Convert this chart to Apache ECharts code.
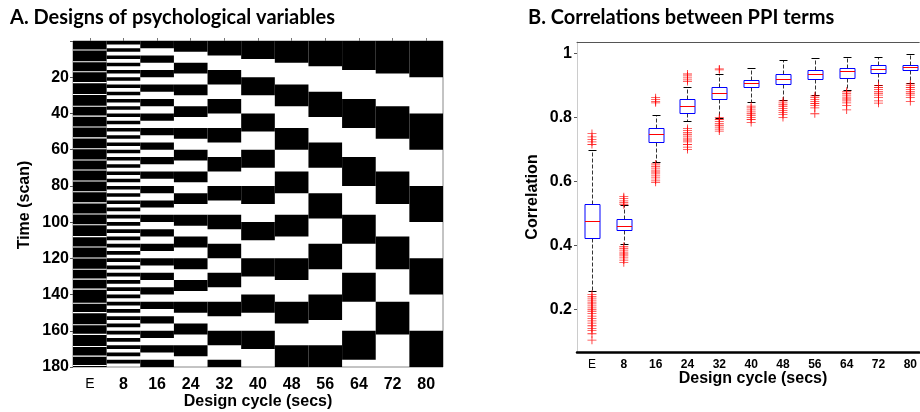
<!DOCTYPE html>
<html>
<head>
<meta charset="utf-8">
<script src="https://cdn.jsdelivr.net/npm/echarts@6/dist/echarts.min.js"></script>
<style>
html, body { margin: 0; padding: 0; background: #fff; }
#chart { width: 920px; height: 412px; }
</style>
</head>
<body>
<div id="chart"></div>
<script>
// design cycles (secs), x categories of both panels
var cycles = ['E', '8', '16', '24', '32', '40', '48', '56', '64', '72', '80'];

// panel A, column E: scans where a (white) event line sits
var eventOnsets = [5, 11.5, 17, 23, 29.5, 36, 41.5, 47.5, 53.5, 59.5, 65.7, 71.2, 77.3, 83.2, 89.4, 95.5,
    101.5, 108, 113.7, 119.8, 126, 131.5, 137, 144.8, 150, 156.7, 162, 168.7, 174, 179.2];

// panel A, columns 8..80: length of one black block (scans)
var blockLen = [2, 4, 6, 8, 10, 12, 14, 16, 18, 20];
// panel A, columns 8..80: scans where black blocks start
var blockOnsets = [
    [0, 4, 8, 12, 16, 20, 24, 28, 32, 36, 40, 44, 48, 52, 56, 60, 64, 68, 72, 76, 80, 84, 88, 92, 96, 100,
        104, 108, 112, 116, 120, 124, 128, 132, 136, 140, 144, 148, 152, 156, 160, 164, 168, 172, 176],
    [0, 8, 16, 24, 32, 40, 48, 56, 64, 72, 80, 88, 96, 104, 112, 120, 128, 136, 144, 152, 160, 168, 176],
    [0, 12, 24, 36, 48, 60, 72, 84, 96, 108, 120, 132, 144, 156, 168],
    [0, 16, 32, 48, 64, 80, 96, 112, 128, 144, 160, 176],
    [0, 20, 40, 60, 80, 100, 120, 140, 160],
    [0, 24, 48, 72, 96, 120, 144, 168],
    [0, 28, 56, 84, 112, 140, 168],
    [0, 32, 64, 96, 128, 160],
    [0, 36, 72, 108, 144],
    [0, 40, 80, 120, 160]
];

// panel B: [lower whisker, q1, median, q3, upper whisker] per cycle
var boxStats = [
    [0.26, 0.425, 0.476, 0.529, 0.698],
    [0.406, 0.450, 0.463, 0.484, 0.526],
    [0.661, 0.724, 0.748, 0.769, 0.807],
    [0.79, 0.814, 0.835, 0.857, 0.894],
    [0.80, 0.857, 0.877, 0.894, 0.935],
    [0.85, 0.895, 0.908, 0.918, 0.955],
    [0.856, 0.906, 0.92, 0.935, 0.979],
    [0.872, 0.919, 0.935, 0.948, 0.987],
    [0.887, 0.925, 0.945, 0.955, 0.99],
    [0.902, 0.939, 0.952, 0.963, 0.99],
    [0.908, 0.948, 0.957, 0.963, 0.998]
];
// panel B: outliers per cycle
var outliers = [
    [0.75, 0.74, 0.732, 0.724, 0.716, 0.248, 0.242, 0.236, 0.23, 0.224, 0.218, 0.212, 0.206, 0.2, 0.194,
        0.188, 0.18, 0.172, 0.165, 0.158, 0.15, 0.142, 0.135, 0.125, 0.105],
    [0.553, 0.548, 0.54, 0.534, 0.528, 0.398, 0.392, 0.386, 0.38, 0.374, 0.368, 0.362, 0.355, 0.347],
    [0.862, 0.856, 0.85, 0.846, 0.655, 0.648, 0.642, 0.636, 0.63, 0.624, 0.618, 0.612, 0.605, 0.598],
    [0.936, 0.93, 0.924, 0.918, 0.913, 0.766, 0.76, 0.754, 0.748, 0.742, 0.736, 0.73, 0.724, 0.716, 0.708, 0.7],
    [0.952, 0.949, 0.80, 0.794, 0.788, 0.782, 0.776, 0.77, 0.764, 0.758],
    [0.836, 0.83, 0.824, 0.818, 0.812, 0.806, 0.8, 0.794, 0.785],
    [0.852, 0.846, 0.84, 0.834, 0.828, 0.822, 0.816, 0.81, 0.8],
    [0.868, 0.862, 0.856, 0.85, 0.844, 0.838, 0.83, 0.812],
    [0.882, 0.876, 0.87, 0.864, 0.858, 0.852, 0.846, 0.838, 0.824],
    [0.9, 0.894, 0.888, 0.882, 0.876, 0.87, 0.862, 0.852, 0.845],
    [0.905, 0.9, 0.894, 0.888, 0.882, 0.876, 0.87, 0.862, 0.85]
];
var corrTicks = [0.2, 0.4, 0.6, 0.8, 1];
var cycleIdx = [0, 1, 2, 3, 4, 5, 6, 7, 8, 9, 10];

var FONT = '"Liberation Sans", Arial, sans-serif';

// build series data
var blackData = [[0, 0, 180]];
blockOnsets.forEach(function (list, i) {
    list.forEach(function (s) {
        blackData.push([i + 1, s, Math.min(s + blockLen[i], 180)]);
    });
});
var eventData = eventOnsets.map(function (s) { return [0, s - 0.3, s + 0.3]; });
var boxData = boxStats.map(function (b, i) { return [i].concat(b); });
var outlierData = [];
outliers.forEach(function (list, i) {
    list.forEach(function (v) { outlierData.push([i, v]); });
});

function renderBlock(params, api) {
    var p0 = api.coord([api.value(0), api.value(1)]);
    var p1 = api.coord([api.value(0), api.value(2)]);
    var w = api.size([1, 0])[0];
    return {
        type: 'rect',
        shape: { x: p0[0] - w / 2, y: p0[1], width: w, height: p1[1] - p0[1] },
        style: { fill: api.visual('color') }
    };
}

function renderBox(params, api) {
    var i = api.value(0);
    var x = Math.round(api.coord([i, 0])[0]) + 0.5;
    var y = function (k) { return Math.round(api.coord([i, api.value(k)])[1]) + 0.5; };
    var lo = y(1), q1 = y(2), med = y(3), q3 = y(4), hi = y(5);
    var hw = 7.5, cw = 4;
    var wh = { stroke: '#333', lineWidth: 1, lineDash: [4, 2] };
    return {
        type: 'group',
        children: [
            { type: 'line', shape: { x1: x, y1: q3, x2: x, y2: hi }, style: wh },
            { type: 'line', shape: { x1: x, y1: q1, x2: x, y2: lo }, style: wh },
            { type: 'line', shape: { x1: x - cw, y1: hi, x2: x + cw, y2: hi }, style: { stroke: '#000', lineWidth: 1 } },
            { type: 'line', shape: { x1: x - cw, y1: lo, x2: x + cw, y2: lo }, style: { stroke: '#000', lineWidth: 1 } },
            { type: 'rect', shape: { x: x - hw, y: q3, width: 2 * hw, height: q1 - q3 }, style: { fill: '#fff', stroke: '#0000ff', lineWidth: 1 } },
            { type: 'line', shape: { x1: x - hw, y1: med, x2: x + hw, y2: med }, style: { stroke: '#ff0000', lineWidth: 1 } }
        ]
    };
}

var labelE = function (v) { return v === 'E' ? '{e|E}' : v; };

var chart = echarts.init(document.getElementById('chart'));
chart.setOption({
    backgroundColor: '#fff',
    animation: false,
    grid: [
        { left: 73, top: 41, width: 370, height: 326, show: true, borderColor: '#888', borderWidth: 1 },
        { left: 577, top: 42, right: 0, height: 310 }
    ],
    xAxis: [
        {
            gridIndex: 0, type: 'category', data: cycles, boundaryGap: true,
            axisLine: { show: false },
            axisTick: { show: true, inside: true, length: 3, alignWithLabel: true, interval: 0, lineStyle: { color: '#777' } },
            axisLabel: { interval: 0, fontFamily: FONT, fontWeight: 'bold', fontSize: 16, color: '#000', margin: 10,
                formatter: labelE, rich: { e: { fontFamily: FONT, fontWeight: 'normal', fontSize: 14, color: '#000' } } }
        },
        {
            // the panel runs past the right edge of the picture, so its x scale is a value scale
            gridIndex: 1, type: 'value', min: -0.47, max: 10.28,
            axisLine: { show: true, onZero: false, lineStyle: { color: '#000', width: 2.5 } },
            axisTick: { show: false },
            splitLine: { show: false },
            axisLabel: { customValues: cycleIdx, fontFamily: FONT, fontWeight: 'bold', fontSize: 12, color: '#000', margin: 7,
                formatter: function (v) { return labelE(cycles[Math.round(v)]); },
                rich: { e: { fontFamily: FONT, fontWeight: 'normal', fontSize: 12, color: '#000' } } }
        },
        {
            // top border line of panel B
            gridIndex: 1, type: 'value', position: 'top', min: -0.47, max: 10.28,
            axisLine: { show: true, onZero: false, lineStyle: { color: '#555', width: 1 } },
            axisTick: { show: false }, axisLabel: { show: false }, splitLine: { show: false }
        }
    ],
    yAxis: [
        {
            gridIndex: 0, type: 'value', min: 0, max: 180, interval: 20, inverse: true,
            axisLine: { show: false },
            axisTick: { show: true, length: 3, lineStyle: { color: '#555' } },
            splitLine: { show: false },
            axisLabel: { fontFamily: FONT, fontWeight: 'bold', fontSize: 16, color: '#000', margin: 4,
                formatter: function (v) { return v === 0 ? '' : v; } }
        },
        {
            gridIndex: 1, type: 'value', min: 0.068, max: 1.036,
            axisLine: { show: true, onZero: false, lineStyle: { color: '#ccc' } },
            axisTick: { show: true, length: 3, customValues: corrTicks, lineStyle: { color: '#555' } },
            splitLine: { show: false },
            axisLabel: { fontFamily: FONT, fontWeight: 'bold', fontSize: 16, color: '#000', margin: 5,
                customValues: corrTicks, formatter: function (v) { return String(Math.round(v * 10) / 10); } }
        }
    ],
    graphic: [
        { type: 'text', left: 10, top: 8, style: { text: 'A. Designs of psychological variables', font: 'bold 20px Lato, sans-serif', fill: '#000' } },
        { type: 'text', left: 528, top: 8, style: { text: 'B. Correlations between PPI terms', font: 'bold 20px Lato, sans-serif', fill: '#000' } },
        { type: 'text', x: 25, y: 205, rotation: Math.PI / 2, style: { text: 'Time (scan)', font: 'bold 16px ' + FONT, fill: '#000', align: 'center', verticalAlign: 'middle' } },
        { type: 'text', x: 258, y: 402, style: { text: 'Design cycle (secs)', font: 'bold 16px ' + FONT, fill: '#000', align: 'center', verticalAlign: 'middle' } },
        { type: 'text', x: 533, y: 197, rotation: Math.PI / 2, style: { text: 'Correlation', font: 'bold 16px ' + FONT, fill: '#000', align: 'center', verticalAlign: 'middle' } },
        { type: 'text', x: 753, y: 379, style: { text: 'Design cycle (secs)', font: 'bold 16px ' + FONT, fill: '#000', align: 'center', verticalAlign: 'middle' } }
    ],
    series: [
        { type: 'custom', xAxisIndex: 0, yAxisIndex: 0, renderItem: renderBlock, data: blackData, itemStyle: { color: '#000' }, silent: true },
        { type: 'custom', xAxisIndex: 0, yAxisIndex: 0, renderItem: renderBlock, data: eventData, itemStyle: { color: '#fff' }, silent: true },
        { type: 'custom', xAxisIndex: 1, yAxisIndex: 1, renderItem: renderBox, data: boxData, silent: true },
        {
            type: 'scatter', xAxisIndex: 1, yAxisIndex: 1, data: outlierData,
            symbol: 'path://M0,4.5H4.5V0H5.5V4.5H10V5.5H5.5V10H4.5V5.5H0Z', symbolSize: [9, 8],
            itemStyle: { color: '#ff0000' }, silent: true
        }
    ]
});
</script>
</body>
</html>
